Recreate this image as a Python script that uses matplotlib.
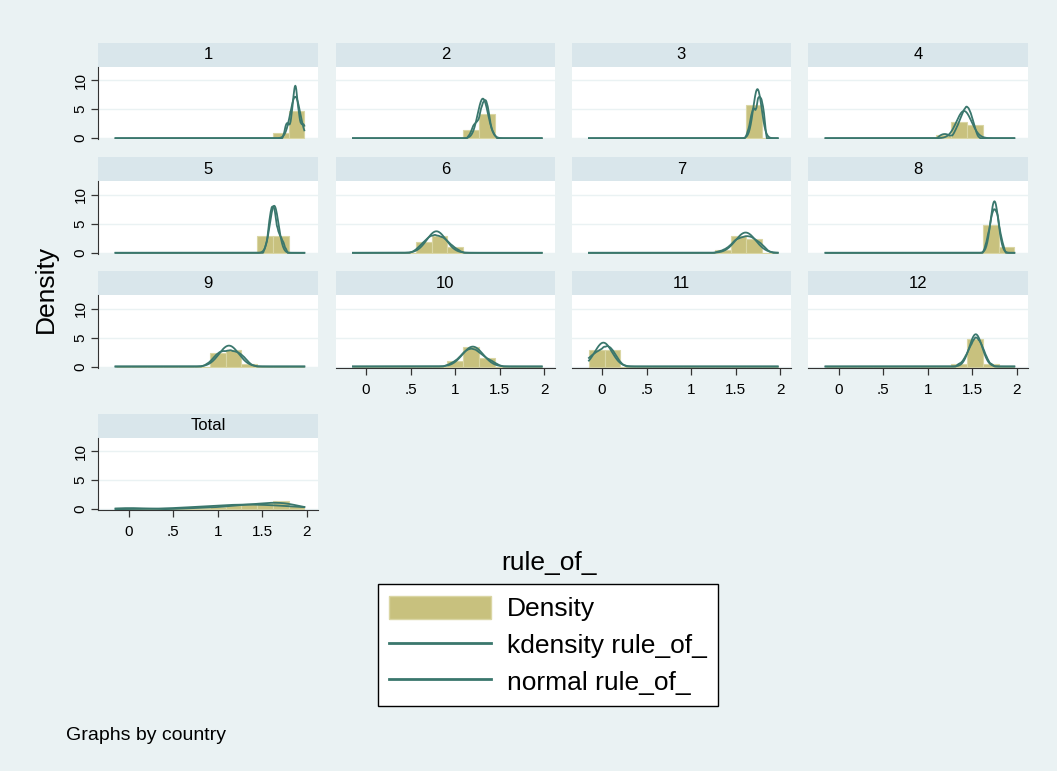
import numpy as np
import matplotlib.pyplot as plt
from matplotlib.patches import Rectangle, Patch
from matplotlib.lines import Line2D

plt.rcParams['font.family'] = ['Liberation Sans', 'DejaVu Sans']

rule_c1 = [1.77, 1.79, 1.84, 1.85, 1.855, 1.865, 1.87, 1.88, 1.89, 1.90, 1.94, 1.97]
rule_c2 = [1.20, 1.23, 1.25, 1.29, 1.31, 1.32, 1.33, 1.33, 1.34, 1.35, 1.37, 1.40]
rule_c3 = [1.66, 1.68, 1.70, 1.71, 1.72, 1.74, 1.77, 1.78, 1.78, 1.79, 1.79, 1.79]
rule_c4 = [1.19, 1.33, 1.36, 1.38, 1.40, 1.42, 1.43, 1.45, 1.46, 1.47, 1.48, 1.50]
rule_c5 = [1.56, 1.58, 1.60, 1.605, 1.61, 1.612, 1.63, 1.64, 1.65, 1.67, 1.70, 1.73]
rule_c6 = [0.62, 0.66, 0.69, 0.72, 0.75, 0.78, 0.80, 0.82, 0.85, 0.88, 0.93, 0.97]
rule_c7 = [1.40, 1.48, 1.52, 1.55, 1.57, 1.59, 1.61, 1.66, 1.70, 1.72, 1.74, 1.78]
rule_c8 = [1.67, 1.69, 1.71, 1.72, 1.74, 1.745, 1.75, 1.76, 1.77, 1.785, 1.805, 1.82]
rule_c9 = [0.95, 0.99, 1.03, 1.05, 1.07, 1.10, 1.14, 1.18, 1.21, 1.23, 1.25, 1.30]
rule_c10 = [1.00, 1.06, 1.11, 1.14, 1.16, 1.18, 1.20, 1.22, 1.25, 1.30, 1.35, 1.40]
rule_c11 = [-0.147, -0.12, -0.08, -0.04, -0.01, 0.02, 0.04, 0.06, 0.08, 0.10, 0.12, 0.16]
rule_c12 = [1.40, 1.46, 1.48, 1.50, 1.52, 1.53, 1.55, 1.56, 1.58, 1.60, 1.61, 1.66]

countries = ['1', '2', '3', '4', '5', '6', '7', '8', '9', '10', '11', '12']
groups = [rule_c1, rule_c2, rule_c3, rule_c4, rule_c5, rule_c6,
          rule_c7, rule_c8, rule_c9, rule_c10, rule_c11, rule_c12]
n_bins = 12
x_ticks = [0, 0.5, 1, 1.5, 2]
x_tick_labels = ['0', '.5', '1', '1.5', '2']
y_ticks = [0, 5, 10]

BG = '#EAF2F3'
STRIP = '#D9E6EB'
BAR = '#C8C17E'
BAR_EDGE = '#DAD6A4'
LINE = '#3A776D'
AXC = '#333333'


def kdensity(obs, grid):
    # epanechnikov kernel, stata default bandwidth
    obs = np.asarray(obs, dtype=float)
    n = len(obs)
    sd = obs.std(ddof=1)
    q25, q75 = np.percentile(obs, [25, 75], method='midpoint')
    m = min(sd, (q75 - q25) / 1.349)
    h = 0.9 * m / n ** 0.2
    z = (grid[:, None] - obs[None, :]) / h
    k = np.where(np.abs(z) < np.sqrt(5), 0.75 / np.sqrt(5) * (1 - z ** 2 / 5), 0.0)
    return k.sum(axis=1) / (n * h)


def normal(obs, grid):
    obs = np.asarray(obs, dtype=float)
    mu, sd = obs.mean(), obs.std(ddof=1)
    return np.exp(-0.5 * ((grid - mu) / sd) ** 2) / (sd * np.sqrt(2 * np.pi))


everything = np.concatenate(groups)
edges = np.linspace(everything.min(), everything.max(), n_bins + 1)
grid = np.linspace(everything.min(), everything.max(), 400)

W, H = 1057, 771
fig = plt.figure(figsize=(W / 100, H / 100), dpi=100, facecolor=BG)

col_left = [98.3, 335.7, 571.7, 808.3]
row_top = [66.7, 181.3, 295.0, 437.7]
pw, ph, strip_h = 219.4, 72.5, 24.0

panels = [(countries[i], groups[i], i // 4, i % 4) for i in range(12)]
panels.append(('Total', list(everything), 3, 0))

for title, obs, r, c in panels:
    ax = fig.add_axes([col_left[c] / W, 1 - (row_top[r] + ph) / H, pw / W, ph / H])
    ax.set_facecolor('white')
    ax.hist(obs, bins=edges, density=True, color=BAR, edgecolor=BAR_EDGE,
            linewidth=0.8, zorder=2)
    ax.plot(grid, kdensity(obs, grid), color=LINE, lw=1.3, zorder=3)
    ax.plot(grid, normal(obs, grid), color=LINE, lw=1.3, zorder=3)
    ax.set_xlim(-0.34, 2.12)
    ax.set_ylim(-0.17, 12.33)
    ax.set_yticks(y_ticks)
    ax.set_xticks(x_ticks)
    ax.set_xticklabels(x_tick_labels)
    ax.grid(axis='y', color=BG, lw=1.0, zorder=0)
    ax.set_axisbelow(True)
    for s in ax.spines.values():
        s.set_visible(False)

    ax.tick_params(axis='both', colors=AXC, labelcolor='black', labelsize=11,
                   length=4.8, width=0.9)
    if c == 0:
        ax.spines['left'].set_visible(True)
        ax.spines['left'].set_color(AXC)
        ax.tick_params(axis='y', labelrotation=90, pad=3)
        for lab in ax.get_yticklabels():
            lab.set_va('center')
    else:
        ax.tick_params(axis='y', left=False, labelleft=False)
    bottom_panel = (r == 2 and c > 0) or r == 3
    if bottom_panel:
        ax.spines['bottom'].set_visible(True)
        ax.spines['bottom'].set_color(AXC)
        ax.tick_params(axis='x', pad=6)
    else:
        ax.tick_params(axis='x', bottom=False, labelbottom=False)

    ax.add_patch(Rectangle((0, 1), 1, strip_h / ph, transform=ax.transAxes,
                           facecolor=STRIP, edgecolor='none', clip_on=False))
    ax.text(0.5, 1 + strip_h / ph / 2, title, transform=ax.transAxes,
            ha='center', va='center', fontsize=12)

fig.text(46 / W, 1 - 289 / H, 'Density', rotation=90, ha='center', va='center',
         fontsize=19)
fig.text(549 / W, 1 - 563 / H, 'rule_of_', ha='center', va='center', fontsize=19)
fig.text(66 / W, 1 - 735 / H, 'Graphs by country', ha='left', va='center',
         fontsize=14)

handles = [Patch(facecolor=BAR, edgecolor=BAR_EDGE, lw=1),
           Line2D([], [], color=LINE, lw=2),
           Line2D([], [], color=LINE, lw=2)]
labels = ['Density', 'kdensity rule_of_', 'normal rule_of_']
leg = fig.legend(handles, labels, loc='upper center',
                 bbox_to_anchor=(548 / W, 1 - 584 / H), fontsize=19,
                 frameon=True, fancybox=False, edgecolor='black',
                 framealpha=1, borderaxespad=0, borderpad=0.44,
                 handlelength=3.85, handleheight=1.0, handletextpad=0.6,
                 labelspacing=0.41)
leg.get_frame().set_linewidth(1.0)

fig.savefig('out.png', dpi=100, facecolor=BG)
